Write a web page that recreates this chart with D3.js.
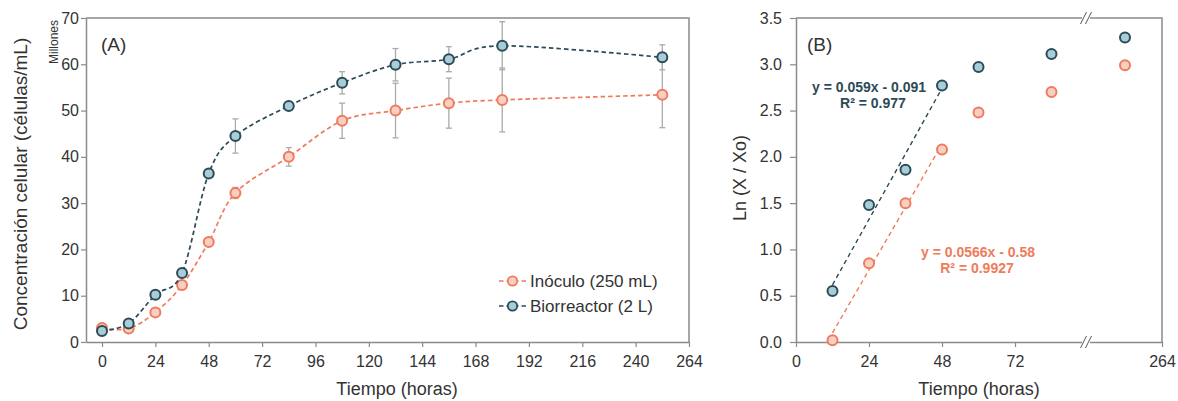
<!DOCTYPE html>
<html><head><meta charset="utf-8">
<script src="https://cdn.jsdelivr.net/npm/d3@7"></script>
<style>body{margin:0;background:#fff}text{font-family:"Liberation Sans",Arial,sans-serif;fill:#333}</style>
</head><body><svg id="c" width="1178" height="401"></svg>
<script>
// ---------- data ----------
const timesA = [0, 12, 24, 36, 48, 60, 84, 108, 132, 156, 180, 252];
const inoculo = [3.0, 2.9, 6.4, 12.3, 21.6, 32.2, 40.0, 47.8, 50.0, 51.6, 52.3, 53.4];
const inoculoErr = [0.3, 0.3, 0.4, 0.6, 0.8, 1.2, 2.0, 3.8, 5.9, 5.4, 6.9, 7.1];
const biorreactor = [2.4, 4.0, 10.2, 14.9, 36.4, 44.5, 51.0, 56.0, 59.9, 61.1, 64.0, 61.5];
const biorreactorErr = [0.2, 0.3, 0.4, 0.5, 0.6, 3.7, 0.6, 2.4, 3.5, 2.7, 5.2, 2.7];
const xTicksA = [0, 24, 48, 72, 96, 120, 144, 168, 192, 216, 240, 264];
const yTicksA = [0, 10, 20, 30, 40, 50, 60, 70];

const timesB = [12, 24, 36, 48, 60, 84, 252];
const lnInoculo = [0.02, 0.85, 1.50, 2.08, 2.48, 2.70, 2.99];
const lnBiorreactor = [0.55, 1.48, 1.86, 2.77, 2.97, 3.11, 3.29];
const fitInoculo = {slope: 0.0566, intercept: -0.58, r2: "0.9927", from: 12, to: 48};
const fitBiorreactor = {slope: 0.059, intercept: -0.091, r2: "0.977", from: 12, to: 48};
const xTicksB = [0, 24, 48, 72, 264];
const yTicksB = [0, 0.5, 1.0, 1.5, 2.0, 2.5, 3.0, 3.5];

const seriesNames = ["Inóculo (250 mL)", "Biorreactor (2 L)"];

// ---------- styles ----------
const C = {
  orLine: "#ef7b5c", orFill: "#f8d0c3",
  dkLine: "#2d4a57", dkFill: "#a7cdd9",
  axis: "#8a8a8a", err: "#aaaaaa"
};
const FONT = "Liberation Sans, Arial, sans-serif";
const svg = d3.select("#c");

function styleAxis(a) {
  a.select(".domain").attr("stroke", C.axis).attr("stroke-width", 1.5);
  a.selectAll(".tick line").attr("stroke", C.axis).attr("stroke-width", 1.2);
  a.selectAll(".tick text").attr("font-size", 16).style("fill", "#333").attr("font-family", FONT);
}

// ================= Panel A =================
const A = {l: 86, r: 689, t: 18, b: 342};
const xA = d3.scaleLinear().domain([-7.2, 264]).range([A.l, A.r]);
const yA = d3.scaleLinear().domain([0, 70]).range([A.b, A.t]);
const gA = svg.append("g");

gA.append("path").attr("d", `M${A.l},${A.t}H${A.r}V${A.b}`).attr("fill", "none")
  .attr("stroke", C.axis).attr("stroke-width", 1.5);
const axA = gA.append("g").attr("transform", `translate(0,${A.b})`)
  .call(d3.axisBottom(xA).tickValues(xTicksA).tickSize(5).tickSizeOuter(0).tickPadding(9));
const ayA = gA.append("g").attr("transform", `translate(${A.l},0)`)
  .call(d3.axisLeft(yA).tickValues(yTicksA).tickSize(5).tickSizeOuter(0).tickPadding(2));
styleAxis(axA); styleAxis(ayA);

gA.append("text").attr("x", 101).attr("y", 51).attr("font-size", 19).text("(A)");
gA.append("text").attr("transform", "translate(58,42) rotate(-90)").attr("text-anchor", "middle")
  .attr("font-size", 12).text("Millones");
gA.append("text").attr("transform", "translate(27,184) rotate(-90)").attr("text-anchor", "middle")
  .attr("font-size", 19).text("Concentración celular (células/mL)");
gA.append("text").attr("x", 397).attr("y", 395).attr("text-anchor", "middle")
  .attr("font-size", 18).text("Tiempo (horas)");

function drawSeries(vals, errs, lineC, fillC) {
  const g = gA.append("g");
  timesA.forEach((t, i) => {
    const x = xA(t), y1 = yA(vals[i] + errs[i]), y2 = yA(vals[i] - errs[i]);
    if (Math.abs(y2 - y1) < 6) return;
    g.append("line").attr("x1", x).attr("x2", x).attr("y1", y1).attr("y2", y2)
      .attr("stroke", C.err).attr("stroke-width", 1.3);
    [y1, y2].forEach(yy => g.append("line").attr("x1", x - 3).attr("x2", x + 3)
      .attr("y1", yy).attr("y2", yy).attr("stroke", C.err).attr("stroke-width", 1.3));
  });
  const line = d3.line().x((d, i) => xA(timesA[i])).y(d => yA(d)).curve(d3.curveCardinal.tension(0));
  g.append("path").attr("d", line(vals)).attr("fill", "none").attr("stroke", lineC)
    .attr("stroke-width", 1.7).attr("stroke-dasharray", "4.5,3");
  g.selectAll("circle").data(vals).join("circle")
    .attr("cx", (d, i) => xA(timesA[i])).attr("cy", d => yA(d)).attr("r", 5)
    .attr("fill", fillC).attr("stroke", lineC).attr("stroke-width", 2);
}
drawSeries(inoculo, inoculoErr, C.orLine, C.orFill);
drawSeries(biorreactor, biorreactorErr, C.dkLine, C.dkFill);

const legend = gA.append("g");
[[C.orLine, C.orFill], [C.dkLine, C.dkFill]].forEach((c, i) => {
  const y = 281 + i * 25;
  legend.append("line").attr("x1", 499).attr("x2", 526).attr("y1", y).attr("y2", y)
    .attr("stroke", c[0]).attr("stroke-width", 1.7).attr("stroke-dasharray", "4.5,3");
  legend.append("circle").attr("cx", 512.5).attr("cy", y).attr("r", 4.7)
    .attr("fill", c[1]).attr("stroke", c[0]).attr("stroke-width", 1.8);
  legend.append("text").attr("x", 530).attr("y", y + 6).attr("font-size", 17).text(seriesNames[i]);
});

// ================= Panel B =================
const B = {l: 796, r: 1162, t: 18, b: 342};
const xB = d3.scaleLinear().domain([0, 96, 240, 264]).range([B.l, 1088, 1088, B.r]);
const yB = d3.scaleLinear().domain([0, 3.5]).range([B.b, B.t]);
const gB = svg.append("g");
gB.append("path").attr("d", `M${B.l},${B.t}H${B.r}V${B.b}`).attr("fill", "none")
  .attr("stroke", C.axis).attr("stroke-width", 1.5);
const axB = gB.append("g").attr("transform", `translate(0,${B.b})`)
  .call(d3.axisBottom(xB).tickValues(xTicksB).tickSize(5).tickSizeOuter(0).tickPadding(9));
const ayB = gB.append("g").attr("transform", `translate(${B.l},0)`)
  .call(d3.axisLeft(yB).tickValues(yTicksB).tickFormat(d3.format(".1f")).tickSize(6).tickSizeOuter(0).tickPadding(8));
styleAxis(axB); styleAxis(ayB);

[B.t, B.b].forEach(y => {
  const x = xB(96) - 2;
  gB.append("rect").attr("x", x - 4).attr("y", y - 2).attr("width", 8).attr("height", 4).attr("fill", "#fff");
  [-2.5, 2.5].forEach(dx => gB.append("line")
    .attr("x1", x + dx - 3).attr("y1", y + 6).attr("x2", x + dx + 3).attr("y2", y - 6)
    .attr("stroke", "#555").attr("stroke-width", 1));
});

gB.append("text").attr("x", 807).attr("y", 51).attr("font-size", 19).text("(B)");
gB.append("text").attr("transform", "translate(746,178) rotate(-90)").attr("text-anchor", "middle")
  .attr("font-size", 18).text("Ln (X / Xo)");
gB.append("text").attr("x", 979).attr("y", 395).attr("text-anchor", "middle")
  .attr("font-size", 18).text("Tiempo (horas)");

function drawFit(fit, color) {
  gB.append("line").attr("x1", xB(fit.from)).attr("y1", yB(fit.slope * fit.from + fit.intercept))
    .attr("x2", xB(fit.to)).attr("y2", yB(fit.slope * fit.to + fit.intercept))
    .attr("stroke", color).attr("stroke-width", 1.4).attr("stroke-dasharray", "4.5,3.5");
}
drawFit(fitBiorreactor, C.dkLine);
drawFit(fitInoculo, C.orLine);

function drawPts(vals, lineC, fillC) {
  gB.append("g").selectAll("circle").data(vals).join("circle")
    .attr("cx", (d, i) => xB(timesB[i])).attr("cy", d => yB(d)).attr("r", 5)
    .attr("fill", fillC).attr("stroke", lineC).attr("stroke-width", 2);
}
drawPts(lnInoculo, C.orLine, C.orFill);
drawPts(lnBiorreactor, C.dkLine, C.dkFill);

function eqText(fit, cx, y, cx2, y2, color) {
  const sign = fit.intercept < 0 ? " - " : " + ";
  const t1 = `y = ${fit.slope}x${sign}${Math.abs(fit.intercept)}`;
  gB.append("text").attr("x", cx).attr("y", y).attr("text-anchor", "middle").attr("font-size", 14)
    .attr("font-weight", "bold").style("fill", color).text(t1);
  gB.append("text").attr("x", cx2).attr("y", y2).attr("text-anchor", "middle").attr("font-size", 14)
    .attr("font-weight", "bold").style("fill", color).text(`R² = ${fit.r2}`);
}
eqText(fitBiorreactor, 869, 92, 873, 108, C.dkLine);
eqText(fitInoculo, 978, 257, 977, 273, C.orLine);
</script></body></html>
